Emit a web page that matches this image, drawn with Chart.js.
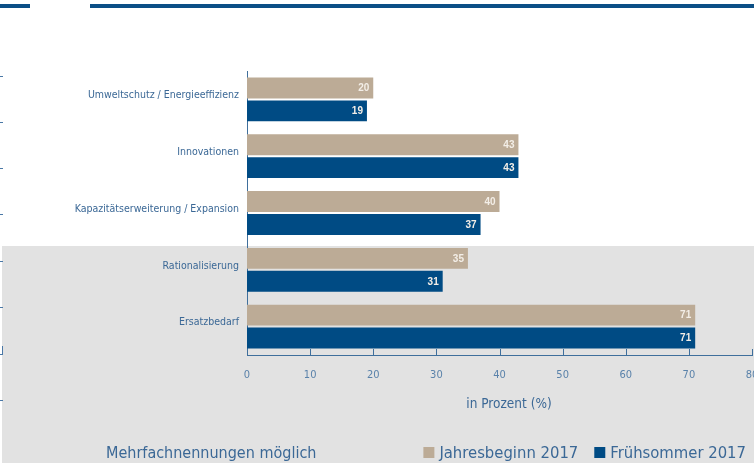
<!DOCTYPE html>
<html lang="de">
<head>
<meta charset="utf-8">
<title>Investitionsmotive</title>
<script src="https://cdn.jsdelivr.net/npm/chart.js@4"></script>
<style>
  html, body { margin: 0; padding: 0; background: #fff; }
  canvas { display: block; }
</style>
</head>
<body>
<canvas id="grafico" width="754" height="463"></canvas>
<script>
const kategorien = [
    'Umweltschutz / Energieeffizienz',
    'Innovationen',
    'Kapazitätserweiterung / Expansion',
    'Rationalisierung',
    'Ersatzbedarf'
];
const serien = ['Jahresbeginn 2017', 'Frühsommer 2017'];
const jahresbeginn = [20, 43, 40, 35, 71];
const fruehsommer = [19, 43, 37, 31, 71];
const xTicks = [0, 10, 20, 30, 40, 50, 60, 70, 80];
const achsenTitel = 'in Prozent (%)';
const hinweis = 'Mehrfachnennungen möglich';

const BEIGE = '#bcab96';
const BLAU = '#004b84';
const TEXT = '#3b6896';
const ACHSE = '#3f6f9c';
const SCHRIFT = '"Liberation Sans Narrow", "DejaVu Sans Condensed", Arial, sans-serif';

// Seitenhintergrund: grauer Block unten, Balken oben, kleine Striche am linken Rand
const hintergrund = {
    id: 'hintergrund',
    beforeDraw(chart) {
        const c = chart.ctx;
        c.save();
        c.fillStyle = '#ffffff';
        c.fillRect(0, 0, chart.width, chart.height);
        c.fillStyle = '#e2e2e2';
        c.fillRect(2, 246, chart.width - 2, chart.height - 246);
        c.fillStyle = '#0b4f86';
        c.fillRect(0, 4, 30, 4);
        c.fillRect(90, 4, chart.width - 90, 4);
        c.fillStyle = '#4a78a6';
        [76, 122, 168, 214, 261, 307, 400].forEach(y => c.fillRect(0, y, 3, 1));
        c.fillRect(2, 346, 1, 9);
        c.fillRect(0, 354, 3, 1);
        c.restore();
    }
};

// Zahlenwerte rechtsbündig im Balkenende
const werte = {
    id: 'werte',
    afterDatasetsDraw(chart) {
        const c = chart.ctx;
        c.save();
        c.font = 'bold 10px "Liberation Sans", Arial, sans-serif';
        c.fillStyle = '#f3eee7';
        c.textAlign = 'right';
        c.textBaseline = 'middle';
        chart.data.datasets.forEach((ds, i) => {
            chart.getDatasetMeta(i).data.forEach((bar, j) => {
                c.fillText(String(ds.data[j]), bar.x - 4, bar.y + 0.5);
            });
        });
        c.restore();
    }
};

// Teilstriche der x-Achse nach oben, Achsentitel, Legende und Hinweis
const extras = {
    id: 'extras',
    afterDraw(chart) {
        const c = chart.ctx;
        const x = chart.scales.x;
        const unten = chart.chartArea.bottom;
        c.save();
        c.strokeStyle = ACHSE;
        c.lineWidth = 1;
        c.beginPath();
        xTicks.forEach(v => {
            const px = Math.round(x.getPixelForValue(v)) + 0.5;
            c.moveTo(px, unten - 6);
            c.lineTo(px, unten);
        });
        c.stroke();

        c.fillStyle = TEXT;
        c.textBaseline = 'middle';
        c.textAlign = 'center';
        c.font = '13.5px ' + SCHRIFT;
        c.fillText(achsenTitel, 509, 404);

        c.textBaseline = 'alphabetic';
        c.textAlign = 'left';
        const yText = 458;
        c.font = '16px ' + SCHRIFT;
        c.fillText(hinweis, 106, yText);

        // Legende von rechts aufbauen
        c.font = '16.5px ' + SCHRIFT;
        let rechts = 746;
        const eintraege = chart.data.datasets.map(ds => ({ text: ds.label, farbe: ds.backgroundColor }));
        for (let i = eintraege.length - 1; i >= 0; i--) {
            const e = eintraege[i];
            const w = c.measureText(e.text).width;
            const tx = rechts - w;
            c.fillStyle = TEXT;
            c.fillText(e.text, tx, yText);
            c.fillStyle = e.farbe;
            c.fillRect(tx - 16, yText - 11, 11, 11);
            rechts = tx - 16 - 16;
        }
        c.restore();
    }
};

const ctx = document.getElementById('grafico').getContext('2d');

const grafico = new Chart(ctx, {
    type: 'bar',
    data: {
        labels: kategorien,
        datasets: [{
            label: serien[0],
            data: jahresbeginn,
            backgroundColor: BEIGE,
            categoryPercentage: 0.807,
            barPercentage: 0.913
        }, {
            label: serien[1],
            data: fruehsommer,
            backgroundColor: BLAU,
            categoryPercentage: 0.807,
            barPercentage: 0.913
        }]
    },
    options: {
        indexAxis: 'y',
        responsive: false,
        devicePixelRatio: 1,
        animation: false,
        layout: {
            padding: { top: 71, right: 2, bottom: 48, left: 0 }
        },
        plugins: {
            legend: { display: false },
            tooltip: { enabled: false }
        },
        scales: {
            x: {
                type: 'linear',
                min: 0,
                max: 80,
                afterBuildTicks: (scale) => {
                    scale.ticks = xTicks.map(v => ({ value: v }));
                },
                afterFit: (scale) => {
                    scale.height = 60;
                    scale.paddingLeft = 0;
                    scale.paddingRight = 0;
                },
                grid: { display: false, drawTicks: false },
                border: { display: true, color: ACHSE, width: 1 },
                ticks: {
                    color: '#5a82aa',
                    font: { family: SCHRIFT, size: 11 },
                    padding: 14,
                    maxRotation: 0
                }
            },
            y: {
                afterFit: (scale) => {
                    scale.width = 247;
                    scale.paddingTop = 0;
                    scale.paddingBottom = 0;
                },
                grid: { display: false, drawTicks: false },
                border: { display: true, color: ACHSE, width: 1 },
                ticks: {
                    color: TEXT,
                    font: { family: SCHRIFT, size: 10.5 },
                    padding: 8,
                    labelOffset: -4
                }
            }
        }
    },
    plugins: [hintergrund, werte, extras]
});
</script>
</body>
</html>
